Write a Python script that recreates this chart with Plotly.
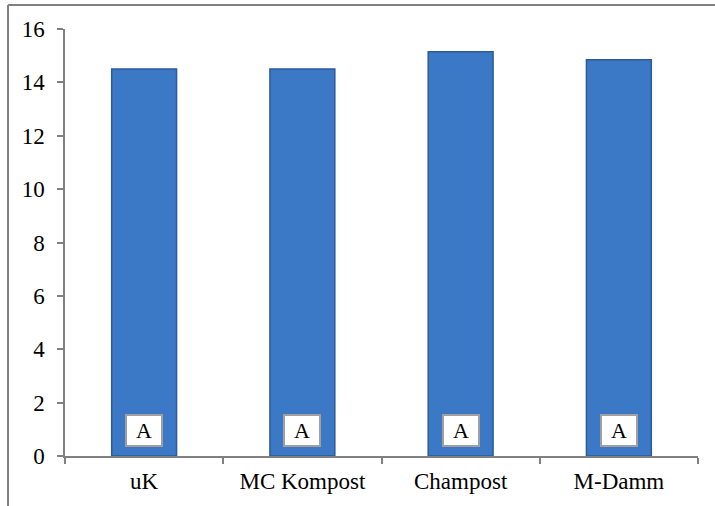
import plotly.graph_objects as go

categories = ["uK", "MC Kompost", "Champost", "M-Damm"]
values = [14.5, 14.5, 15.15, 14.85]
letters = ["A", "A", "A", "A"]
letter_y = [0.97, 0.97, 0.97, 0.97]
y_ticks = [0, 2, 4, 6, 8, 10, 12, 14, 16]

FONT = "Liberation Serif, Times New Roman, serif"

fig = go.Figure()
fig.add_trace(go.Bar(
    x=categories, y=values,
    marker=dict(color="#3b78c6", line=dict(color="#2c5b98", width=1.5)),
    width=0.41,
))

for c, l, ly in zip(categories, letters, letter_y):
    fig.add_annotation(
        x=c, y=ly, xref="x", yref="y", text=l, showarrow=False,
        font=dict(family=FONT, size=22, color="black"),
        bgcolor="white", bordercolor="#a0a0a0", borderwidth=2, borderpad=2,
        width=30, height=25,
    )

# outer chart frame (top and left edges visible)
fig.add_shape(type="line", xref="paper", yref="paper",
              x0=-0.09, x1=1.1, y0=1.056, y1=1.056,
              line=dict(color="#808080", width=2))
fig.add_shape(type="line", xref="paper", yref="paper",
              x0=-0.09, x1=-0.09, y0=1.056, y1=-0.2,
              line=dict(color="#808080", width=2))

fig.update_layout(
    width=715, height=506,
    margin=dict(l=65, r=17, t=29, b=50),
    paper_bgcolor="white", plot_bgcolor="white",
    showlegend=False,
    bargap=0.59,
    font=dict(family=FONT, size=23, color="black"),
    xaxis=dict(
        showline=True, linecolor="#808080", linewidth=1.5,
        ticks="outside", ticklen=6, tickcolor="#808080", tickwidth=1.5,
        tickson="boundaries", showgrid=False,
        tickfont=dict(family=FONT, size=23, color="black"),
        ticklabelstandoff=4,
    ),
    yaxis=dict(
        range=[0, 16], tickvals=y_ticks,
        showline=True, linecolor="#808080", linewidth=1.5,
        ticks="outside", ticklen=6, tickcolor="#808080", tickwidth=1.5,
        showgrid=False, zeroline=False,
        tickfont=dict(family=FONT, size=23, color="black"),
        ticklabelstandoff=8,
    ),
)

fig.write_html("out.html", config={"displayModeBar": False},
               post_script="document.body.style.margin='0';")
